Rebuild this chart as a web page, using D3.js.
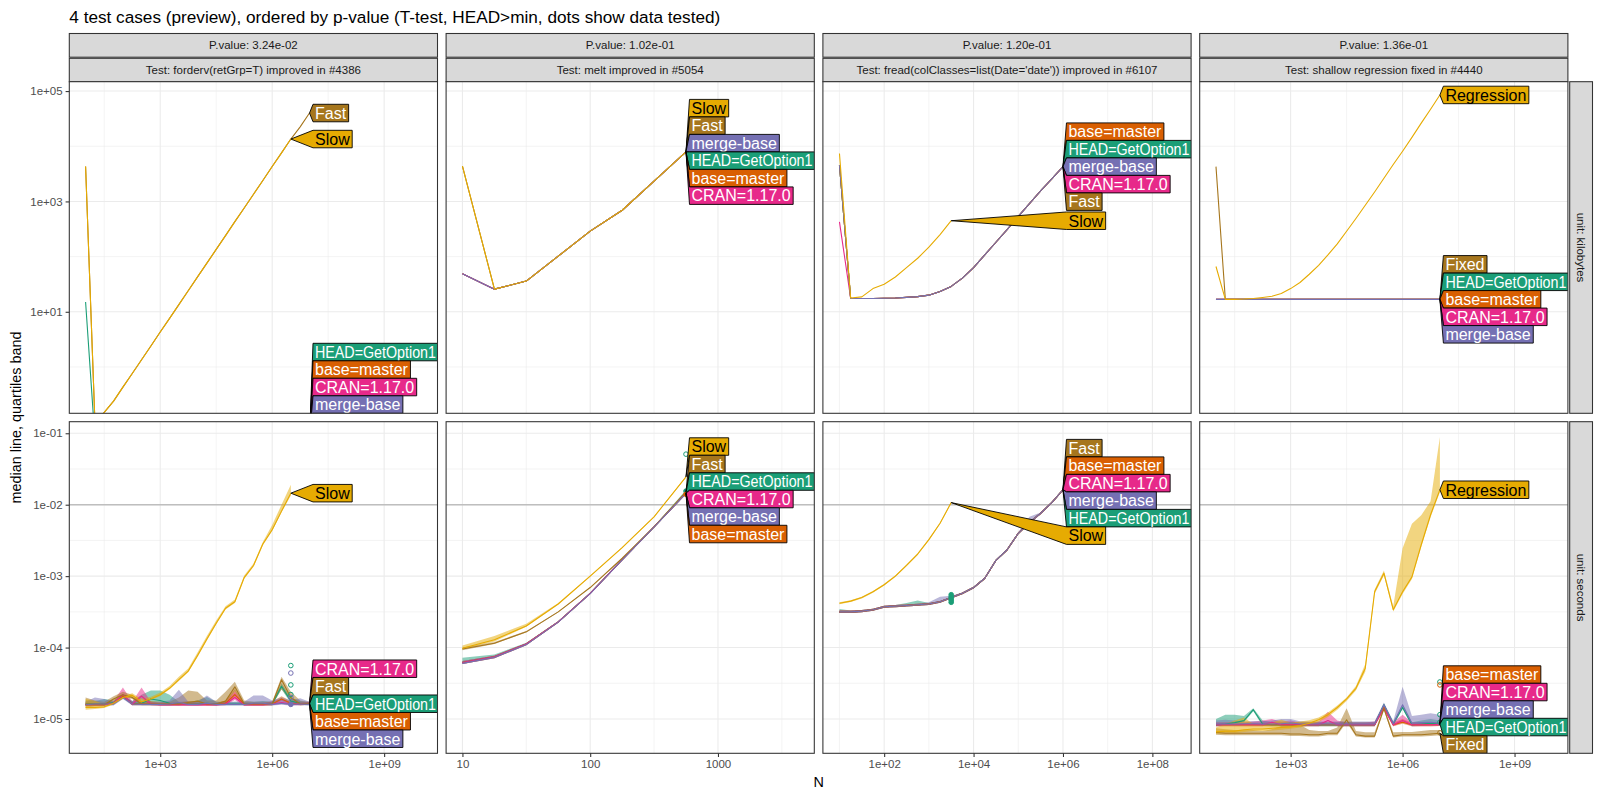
<!DOCTYPE html>
<html><head><meta charset="utf-8">
<script src="https://cdn.jsdelivr.net/npm/d3@7"></script>
<style>
body{margin:0;background:#fff}
text{font-family:"Liberation Sans",Arial,Helvetica,sans-serif}
</style>
</head><body>
<svg id="c" width="1600" height="800"></svg>
<script>
// ===================== DATA =====================
const chartTitle = "4 test cases (preview), ordered by p-value (T-test, HEAD>min, dots show data tested)";
const pValues = ["P.value: 3.24e-02","P.value: 1.02e-01","P.value: 1.20e-01","P.value: 1.36e-01"];
const testTitles = ["Test: forderv(retGrp=T) improved in #4386","Test: melt improved in #5054",
  "Test: fread(colClasses=list(Date='date')) improved in #6107","Test: shallow regression fixed in #4440"];
const rowUnits = ["unit: kilobytes","unit: seconds"];
const yTitle = "median line, quartiles band";
const xTitle = "N";

const seriesKeys = ["HEAD","base","CRAN","fast","merge","slow"];
const seriesNames = {HEAD:"HEAD=GetOption1", base:"base=master", CRAN:"CRAN=1.17.0", merge:"merge-base"};
const fastSlowNames = [["Fast","Slow"],["Fast","Slow"],["Fast","Slow"],["Fixed","Regression"]];

// N grids
const N_forderv = [10,17.8,31.6,56.2,100,178,316,562,1000,1780,3160,5620,1e4,1.78e4,3.16e4,5.62e4,1e5,1.78e5,3.16e5,5.62e5,1e6,1.78e6,3.16e6,5.62e6,1e7];
const N_melt = [10,17.8,31.6,56.2,100,178,316,562];
const N_fread = [10,17.8,31.6,56.2,100,178,316,562,1000,1780,3160,5620,1e4,1.78e4,3.16e4,5.62e4,1e5,1.78e5,3.16e5,5.62e5,1e6];
const N_shallow = [10,17.8,31.6,56.2,100,178,316,562,1000,1780,3160,5620,1e4,1.78e4,3.16e4,5.62e4,1e5,1.78e5,3.16e5,5.62e5,1e6,1.78e6,3.16e6,5.62e6,1e7];

// axis ticks
const yTicksKb = [10,1000,1e5], yTickLabelsKb = ["1e+01","1e+03","1e+05"];
const yMinorKb = [1,100,1e4];
const yTicksSec = [1e-5,1e-4,1e-3,1e-2,1e-1], yTickLabelsSec = ["1e-05","1e-04","1e-03","1e-02","1e-01"];
const yMinorSec = [3.16e-5,3.16e-4,3.16e-3,3.16e-2];
const yDomainKb = [0.1445, 1.479e5];
const yDomainSec = [3.31e-6, 0.1452];
const xTicks = [[1e3,1e6,1e9],[10,100,1000],[1e2,1e4,1e6,1e8],[1e3,1e6,1e9]];
const xTickLabels = [["1e+03","1e+06","1e+09"],["10","100","1000"],["1e+02","1e+04","1e+06","1e+08"],["1e+03","1e+06","1e+09"]];
const xMinor = [[31.6,3.16e4,3.16e7],[31.6,316,3162],[10,1000,1e5,1e7],[31.6,3.16e4,3.16e7]];
const xDomains = [[3.66,2.69e10],[7.45,5675],[4.26,7.35e8],[3.66,2.69e10]];
const hlineSeconds = 0.01;

// ---------- Panel 1: forderv ----------
const p1KbSlow = [4300,0.1,0.15,0.24,0.43,0.76,1.35,2.4,4.3,7.6,13.5,24,43,76,135,240,430,760,1350,2400,4300,7600,13500];
const p1KbFast = [4300,0.1,0.15,0.24,0.43,0.76,1.35,2.4,4.3,7.6,13.5,24,43,76,135,240,430,760,1350,2400,4300,7600,13500,22500,40000];
const p1KbHead = [15,0.05,0.05,0.05,0.05,0.05,0.05,0.05,0.05,0.05,0.05,0.05,0.05,0.05,0.05,0.05,0.05,0.05,0.05,0.05,0.05,0.05,0.05,0.05,0.05];
const p1KbOther = [0.05,0.05,0.05,0.05,0.05,0.05,0.05,0.05,0.05,0.05,0.05,0.05,0.05,0.05,0.05,0.05,0.05,0.05,0.05,0.05,0.05,0.05,0.05,0.05,0.05];

const p1SecSlowMed = [1.45e-5,1.45e-5,1.48e-5,1.66e-5,2.0e-5,2.14e-5,1.74e-5,1.91e-5,2.19e-5,2.69e-5,3.55e-5,4.68e-5,7.76e-5,1.32e-4,2.19e-4,3.55e-4,4.37e-4,9.55e-4,1.41e-3,2.82e-3,4.47e-3,8.13e-3,1.45e-2];
const p1SecSlowHi = [1.9e-5,1.8e-5,1.6e-5,1.75e-5,2.1e-5,2.3e-5,1.9e-5,2.05e-5,2.35e-5,2.9e-5,3.9e-5,5.1e-5,8.5e-5,1.45e-4,2.4e-4,3.8e-4,4.7e-4,1.02e-3,1.5e-3,3.0e-3,5.2e-3,1.0e-2,1.9e-2];
const p1SecSlowLo = [1.35e-5,1.38e-5,1.42e-5,1.6e-5,1.9e-5,2.05e-5,1.68e-5,1.85e-5,2.1e-5,2.6e-5,3.4e-5,4.5e-5,7.4e-5,1.26e-4,2.1e-4,3.4e-4,4.2e-4,9.2e-4,1.35e-3,2.7e-3,4.3e-3,7.8e-3,1.35e-2];
const p1SecFastMed = [1.58e-5,1.58e-5,1.58e-5,1.91e-5,2.19e-5,2.00e-5,1.62e-5,1.62e-5,1.62e-5,1.62e-5,1.62e-5,1.70e-5,1.78e-5,1.62e-5,1.62e-5,1.78e-5,2.82e-5,1.62e-5,1.62e-5,1.62e-5,1.62e-5,3.55e-5,2.00e-5,1.62e-5,1.66e-5];
const p1SecFastHi = [2.00e-5,1.82e-5,1.74e-5,2.09e-5,2.40e-5,2.19e-5,1.74e-5,1.78e-5,1.74e-5,1.74e-5,2.00e-5,2.51e-5,2.40e-5,1.82e-5,1.82e-5,2.40e-5,3.31e-5,1.82e-5,1.74e-5,1.74e-5,1.74e-5,3.89e-5,2.40e-5,1.82e-5,1.74e-5];
const p1SecFastLo = [1.45e-5,1.50e-5,1.52e-5,1.80e-5,2.05e-5,1.90e-5,1.56e-5,1.56e-5,1.56e-5,1.56e-5,1.56e-5,1.62e-5,1.66e-5,1.56e-5,1.56e-5,1.66e-5,2.45e-5,1.56e-5,1.56e-5,1.56e-5,1.56e-5,2.60e-5,1.80e-5,1.56e-5,1.58e-5];
const p1SecHeadMed = [1.62e-5,1.62e-5,1.62e-5,1.70e-5,2.09e-5,1.66e-5,1.66e-5,1.91e-5,1.82e-5,1.66e-5,1.62e-5,1.62e-5,1.62e-5,1.66e-5,1.62e-5,1.62e-5,1.62e-5,1.62e-5,1.62e-5,1.62e-5,1.62e-5,2.88e-5,1.78e-5,1.66e-5,1.62e-5];
const p1SecHeadHi = [1.82e-5,1.78e-5,1.91e-5,1.82e-5,2.19e-5,1.78e-5,2.19e-5,2.51e-5,2.51e-5,2.19e-5,1.74e-5,1.74e-5,1.82e-5,2.04e-5,1.74e-5,1.74e-5,1.74e-5,1.74e-5,1.74e-5,1.78e-5,1.74e-5,3.16e-5,2.00e-5,1.78e-5,1.70e-5];
const p1SecHeadLo = [1.55e-5,1.56e-5,1.56e-5,1.62e-5,1.95e-5,1.58e-5,1.58e-5,1.75e-5,1.70e-5,1.58e-5,1.56e-5,1.56e-5,1.56e-5,1.58e-5,1.56e-5,1.56e-5,1.56e-5,1.56e-5,1.56e-5,1.56e-5,1.56e-5,2.60e-5,1.66e-5,1.58e-5,1.56e-5];
const p1SecCranMed = [1.58e-5,1.58e-5,1.58e-5,1.66e-5,2.19e-5,1.62e-5,2.09e-5,1.62e-5,1.58e-5,1.58e-5,1.58e-5,1.58e-5,1.58e-5,1.58e-5,1.58e-5,1.62e-5,2.00e-5,1.58e-5,1.58e-5,1.58e-5,1.62e-5,1.70e-5,1.62e-5,1.62e-5,1.66e-5];
const p1SecCranHi = [1.70e-5,1.66e-5,1.66e-5,1.78e-5,2.75e-5,1.74e-5,2.75e-5,1.74e-5,1.66e-5,1.66e-5,1.66e-5,1.66e-5,1.66e-5,1.66e-5,1.66e-5,1.74e-5,2.40e-5,1.66e-5,1.66e-5,1.66e-5,1.78e-5,1.91e-5,1.74e-5,1.70e-5,1.74e-5];
const p1SecCranLo = [1.52e-5,1.52e-5,1.52e-5,1.60e-5,2.05e-5,1.56e-5,1.90e-5,1.56e-5,1.52e-5,1.52e-5,1.52e-5,1.52e-5,1.52e-5,1.52e-5,1.52e-5,1.56e-5,1.85e-5,1.52e-5,1.52e-5,1.52e-5,1.56e-5,1.62e-5,1.56e-5,1.56e-5,1.60e-5];
const p1SecBaseMed = [1.60e-5,1.60e-5,1.60e-5,1.66e-5,2.09e-5,1.62e-5,1.62e-5,1.62e-5,1.60e-5,1.60e-5,1.60e-5,1.62e-5,1.60e-5,1.60e-5,1.60e-5,1.66e-5,2.19e-5,1.62e-5,1.60e-5,1.60e-5,1.62e-5,1.91e-5,1.66e-5,1.62e-5,1.64e-5];
const p1SecBaseHi = [1.70e-5,1.68e-5,1.68e-5,1.76e-5,2.19e-5,1.70e-5,1.70e-5,1.74e-5,1.70e-5,1.70e-5,1.70e-5,1.78e-5,1.70e-5,1.68e-5,1.68e-5,1.82e-5,2.63e-5,1.70e-5,1.68e-5,1.68e-5,1.74e-5,2.09e-5,1.78e-5,1.70e-5,1.72e-5];
const p1SecBaseLo = [1.54e-5,1.54e-5,1.54e-5,1.60e-5,2.00e-5,1.56e-5,1.56e-5,1.56e-5,1.54e-5,1.54e-5,1.54e-5,1.56e-5,1.54e-5,1.54e-5,1.54e-5,1.60e-5,2.00e-5,1.56e-5,1.54e-5,1.54e-5,1.56e-5,1.80e-5,1.60e-5,1.56e-5,1.58e-5];
const p1SecMergeMed = [1.58e-5,1.62e-5,1.62e-5,1.62e-5,2.00e-5,1.62e-5,1.60e-5,1.60e-5,1.60e-5,1.62e-5,1.70e-5,1.60e-5,1.60e-5,1.66e-5,1.60e-5,1.60e-5,1.60e-5,1.60e-5,1.66e-5,1.66e-5,1.60e-5,1.66e-5,1.60e-5,1.62e-5,1.60e-5];
const p1SecMergeHi = [1.74e-5,2.00e-5,1.91e-5,1.74e-5,2.09e-5,1.78e-5,1.70e-5,1.70e-5,1.74e-5,1.82e-5,2.57e-5,1.74e-5,1.74e-5,2.14e-5,1.74e-5,1.70e-5,1.74e-5,1.74e-5,2.14e-5,2.14e-5,1.82e-5,2.00e-5,1.82e-5,1.95e-5,1.74e-5];
const p1SecMergeLo = [1.52e-5,1.54e-5,1.54e-5,1.54e-5,1.90e-5,1.54e-5,1.54e-5,1.54e-5,1.54e-5,1.54e-5,1.60e-5,1.54e-5,1.54e-5,1.58e-5,1.54e-5,1.54e-5,1.54e-5,1.54e-5,1.58e-5,1.58e-5,1.54e-5,1.58e-5,1.54e-5,1.56e-5,1.54e-5];

// ---------- Panel 2: melt ----------
const p2KbSlow = [4370,25.7,36,102,290,692,2340,7900];
const p2KbFast = [4370,25.7,36,102,290,692,2340,7900];
const p2KbOther = [49,25.7,36,102,290,692,2340,7900];
const p2SecSlowMed = [9.8e-5,1.29e-4,2.0e-4,4.07e-4,1.0e-3,2.51e-3,6.76e-3,2.45e-2];
const p2SecSlowHi = [1.07e-4,1.45e-4,2.15e-4,4.2e-4,1.02e-3,2.55e-3,6.9e-3,2.5e-2];
const p2SecSlowLo = [9.5e-5,1.22e-4,1.95e-4,4.0e-4,9.9e-4,2.48e-3,6.7e-3,2.4e-2];
const p2SecFastMed = [9.55e-5,1.15e-4,1.66e-4,3.16e-4,6.92e-4,1.78e-3,4.9e-3,1.51e-2];
const p2SecFastHi = [1.0e-4,1.2e-4,1.7e-4,3.2e-4,7.0e-4,1.8e-3,4.95e-3,1.55e-2];
const p2SecFastLo = [9.2e-5,1.12e-4,1.63e-4,3.12e-4,6.85e-4,1.76e-3,4.85e-3,1.48e-2];
const p2SecOtherMed = [6.17e-5,7.41e-5,1.12e-4,2.29e-4,5.75e-4,1.70e-3,4.9e-3,1.45e-2];
const p2SecMergeMed = [6.0e-5,7.3e-5,1.1e-4,2.27e-4,5.7e-4,1.69e-3,4.85e-3,1.44e-2];
const p2SecHeadHi = [7.2e-5,8.0e-5,1.17e-4,2.35e-4,5.9e-4,1.74e-3,5.0e-3,1.6e-2];
const p2SecOtherHi = [6.5e-5,7.7e-5,1.15e-4,2.33e-4,5.85e-4,1.72e-3,4.95e-3,1.5e-2];
const p2SecOtherLo = [5.9e-5,7.1e-5,1.08e-4,2.22e-4,5.6e-4,1.66e-3,4.8e-3,1.4e-2];

// ---------- Panel 3: fread ----------
const p3KbSlow = [7410,17.8,18.6,26.3,31.6,42.7,63.1,93.3,148,251,447];
const p3KbOther = [4570,17.4,17.4,17.4,17.6,17.8,18.2,18.8,20.0,23.4,28.8,40.7,63.1,107,182,309,537,912,1550,2570,4270];
const p3KbCran = [427,17.4,17.4,17.4,17.6,17.8,18.2,18.8,20.0,23.4,28.8,40.7,63.1,107,182,309,537,912,1550,2570,4270];
const p3SecSlowMed = [4.17e-4,4.47e-4,5.01e-4,6.03e-4,7.59e-4,1.0e-3,1.41e-3,2.04e-3,3.24e-3,5.5e-3,1.07e-2];
const p3SecSlowHi = [4.3e-4,4.6e-4,5.15e-4,6.2e-4,7.8e-4,1.03e-3,1.45e-3,2.1e-3,3.33e-3,5.65e-3,1.1e-2];
const p3SecSlowLo = [4.05e-4,4.35e-4,4.88e-4,5.87e-4,7.4e-4,9.7e-4,1.37e-3,1.98e-3,3.15e-3,5.35e-3,1.04e-2];
const p3SecOtherMed = [3.16e-4,3.16e-4,3.24e-4,3.39e-4,3.72e-4,3.80e-4,3.89e-4,3.98e-4,4.07e-4,4.37e-4,5.01e-4,5.75e-4,6.92e-4,9.33e-4,1.66e-3,2.34e-3,3.98e-3,5.62e-3,7.59e-3,1.07e-2,1.62e-2];
const p3SecHeadHi = [3.47e-4,3.3e-4,3.35e-4,3.5e-4,3.85e-4,3.95e-4,4.2e-4,4.57e-4,4.2e-4,4.5e-4,5.15e-4,5.9e-4,7.1e-4,9.6e-4,1.7e-3,2.4e-3,4.1e-3,5.8e-3,7.8e-3,1.1e-2,1.66e-2];
const p3SecOtherHi = [3.3e-4,3.3e-4,3.35e-4,3.5e-4,3.85e-4,3.95e-4,4.0e-4,4.1e-4,4.2e-4,4.5e-4,5.15e-4,5.9e-4,7.1e-4,9.6e-4,1.7e-3,2.4e-3,4.1e-3,5.8e-3,7.8e-3,1.1e-2,1.66e-2];
const p3SecMergeHi = [3.3e-4,3.3e-4,3.35e-4,3.5e-4,3.85e-4,3.95e-4,4.0e-4,4.1e-4,4.3e-4,5.13e-4,5.3e-4,5.9e-4,7.1e-4,9.6e-4,1.7e-3,2.4e-3,4.1e-3,6.76e-3,7.8e-3,1.1e-2,1.66e-2];
const p3SecOtherLo = [3.05e-4,3.05e-4,3.13e-4,3.28e-4,3.6e-4,3.68e-4,3.77e-4,3.86e-4,3.95e-4,4.24e-4,4.86e-4,5.58e-4,6.7e-4,9.05e-4,1.61e-3,2.27e-3,3.86e-3,5.45e-3,7.36e-3,1.04e-2,1.57e-2];

// ---------- Panel 4: shallow ----------
const p4KbRegression = [66.1,16.8,16.8,17.0,17.4,18.2,19.1,21.4,26.3,33.9,47.9,69.2,107,170,288,490,851,1480,2630,4680,8130,14500,26300,46800,85100];
const p4KbFixed = [4270,16.8,16.8,16.8,16.8,16.8,16.8,16.8,16.8,16.8,16.8,16.8,16.8,16.8,16.8,16.8,16.8,16.8,16.8,16.8,16.8,16.8,16.8,16.8,16.8];
const p4KbOther = [16.8,16.8,16.8,16.8,16.8,16.8,16.8,16.8,16.8,16.8,16.8,16.8,16.8,16.8,16.8,16.8,16.8,16.8,16.8,16.8,16.8,16.8,16.8,16.8,16.8];
const p4SecRegMed = [6.61e-6,6.76e-6,6.76e-6,7.08e-6,7.24e-6,7.24e-6,7.41e-6,7.59e-6,7.76e-6,8.13e-6,8.71e-6,9.77e-6,1.15e-5,1.45e-5,1.91e-5,2.69e-5,5.13e-5,6.03e-4,1.10e-3,3.39e-4,6.03e-4,9.77e-4,2.75e-3,7.24e-3,1.62e-2];
const p4SecRegHi = [7.6e-6,8.5e-6,9.5e-6,1.05e-5,8.5e-6,8.5e-6,9.0e-6,9.8e-6,8.9e-6,9.2e-6,9.6e-6,1.05e-5,1.23e-5,1.55e-5,2.0e-5,2.9e-5,5.9e-5,6.5e-4,1.2e-3,3.8e-4,2.45e-3,5.4e-3,7.1e-3,1.12e-2,8.9e-2];
const p4SecRegLo = [6.2e-6,6.3e-6,6.3e-6,6.6e-6,6.8e-6,6.8e-6,6.9e-6,7.1e-6,7.3e-6,7.6e-6,8.1e-6,9.1e-6,1.07e-5,1.35e-5,1.78e-5,2.5e-5,4.6e-5,5.6e-4,1.02e-3,3.2e-4,5.6e-4,9.1e-4,2.55e-3,6.7e-3,1.5e-2];
const p4SecFixedMed = [6.46e-6,6.31e-6,6.31e-6,6.31e-6,6.31e-6,6.31e-6,6.31e-6,6.31e-6,6.17e-6,6.17e-6,6.03e-6,6.03e-6,6.31e-6,6.31e-6,9.77e-6,6.03e-6,5.75e-6,5.75e-6,1.41e-5,5.75e-6,6.03e-6,6.03e-6,6.03e-6,6.17e-6,6.31e-6];
const p4SecFixedHi = [7.4e-6,7.2e-6,7.0e-6,7.0e-6,7.0e-6,6.8e-6,7.2e-6,8.0e-6,8.7e-6,8.3e-6,7.0e-6,6.8e-6,6.8e-6,7.6e-6,1.41e-5,6.8e-6,6.5e-6,6.5e-6,1.48e-5,6.5e-6,6.6e-6,6.6e-6,6.8e-6,7.0e-6,7.0e-6];
const p4SecFixedLo = [6.0e-6,5.9e-6,5.9e-6,5.9e-6,5.9e-6,5.9e-6,5.9e-6,5.9e-6,5.8e-6,5.8e-6,5.7e-6,5.7e-6,5.9e-6,5.9e-6,9.0e-6,5.7e-6,5.5e-6,5.5e-6,1.32e-5,5.5e-6,5.7e-6,5.7e-6,5.7e-6,5.8e-6,5.9e-6];
const p4SecHeadMed = [8.3e-6,8.5e-6,8.9e-6,9.5e-6,1.35e-5,8.5e-6,8.3e-6,8.3e-6,8.3e-6,8.3e-6,8.3e-6,8.3e-6,8.3e-6,8.3e-6,8.3e-6,8.3e-6,8.3e-6,8.3e-6,1.58e-5,8.5e-6,1.45e-5,8.3e-6,8.5e-6,8.7e-6,8.5e-6];
const p4SecHeadHi = [1.0e-5,1.15e-5,1.15e-5,1.1e-5,1.41e-5,9.5e-6,9.0e-6,9.0e-6,9.0e-6,9.0e-6,9.0e-6,9.0e-6,9.0e-6,9.0e-6,9.0e-6,9.0e-6,9.0e-6,9.0e-6,1.66e-5,9.2e-6,1.55e-5,9.0e-6,9.5e-6,1.0e-5,9.5e-6];
const p4SecHeadLo = [7.9e-6,8.0e-6,8.4e-6,9.0e-6,1.28e-5,8.0e-6,7.9e-6,7.9e-6,7.9e-6,7.9e-6,7.9e-6,7.9e-6,7.9e-6,7.9e-6,7.9e-6,7.9e-6,7.9e-6,7.9e-6,1.5e-5,8.0e-6,1.38e-5,7.9e-6,8.0e-6,8.2e-6,8.0e-6];
const p4SecCranMed = [8.3e-6,8.3e-6,8.3e-6,8.3e-6,8.3e-6,8.3e-6,9.0e-6,8.3e-6,8.3e-6,8.3e-6,8.3e-6,8.3e-6,9.5e-6,8.3e-6,8.3e-6,8.3e-6,8.3e-6,8.3e-6,1.41e-5,8.3e-6,9.5e-6,8.3e-6,8.3e-6,8.3e-6,8.4e-6];
const p4SecCranHi = [8.9e-6,8.9e-6,8.9e-6,8.9e-6,9.2e-6,9.5e-6,1.0e-5,9.2e-6,9.5e-6,8.9e-6,8.9e-6,9.2e-6,1.26e-5,9.5e-6,8.9e-6,8.9e-6,8.9e-6,9.2e-6,1.58e-5,9.0e-6,1.15e-5,8.9e-6,8.9e-6,8.9e-6,9.0e-6];
const p4SecCranLo = [7.9e-6,7.9e-6,7.9e-6,7.9e-6,7.9e-6,7.9e-6,8.6e-6,7.9e-6,7.9e-6,7.9e-6,7.9e-6,7.9e-6,9.0e-6,7.9e-6,7.9e-6,7.9e-6,7.9e-6,7.9e-6,1.33e-5,7.9e-6,9.0e-6,7.9e-6,7.9e-6,7.9e-6,8.0e-6];
const p4SecBaseMed = [8.3e-6,8.3e-6,8.3e-6,8.3e-6,8.3e-6,8.3e-6,8.3e-6,8.3e-6,8.3e-6,8.3e-6,8.3e-6,8.3e-6,8.3e-6,8.3e-6,8.3e-6,8.3e-6,8.3e-6,8.3e-6,1.45e-5,8.3e-6,9.0e-6,8.3e-6,8.3e-6,8.3e-6,8.4e-6];
const p4SecBaseHi = [8.9e-6,8.9e-6,8.9e-6,8.9e-6,8.9e-6,8.9e-6,8.9e-6,8.9e-6,8.9e-6,8.9e-6,8.9e-6,8.9e-6,8.9e-6,8.9e-6,8.9e-6,8.9e-6,8.9e-6,8.9e-6,1.55e-5,8.9e-6,1.0e-5,8.9e-6,8.9e-6,8.9e-6,9.0e-6];
const p4SecBaseLo = [7.9e-6,7.9e-6,7.9e-6,7.9e-6,7.9e-6,7.9e-6,7.9e-6,7.9e-6,7.9e-6,7.9e-6,7.9e-6,7.9e-6,7.9e-6,7.9e-6,7.9e-6,7.9e-6,7.9e-6,7.9e-6,1.38e-5,7.9e-6,8.6e-6,7.9e-6,7.9e-6,7.9e-6,8.0e-6];
const p4SecMergeMed = [8.5e-6,8.5e-6,8.5e-6,8.6e-6,8.6e-6,8.5e-6,8.5e-6,8.6e-6,8.8e-6,8.5e-6,8.5e-6,8.5e-6,8.5e-6,8.5e-6,8.5e-6,8.5e-6,8.5e-6,8.5e-6,1.58e-5,8.6e-6,1.58e-5,8.7e-6,8.9e-6,9.0e-6,8.8e-6];
const p4SecMergeHi = [9.5e-6,9.8e-6,9.5e-6,9.3e-6,9.3e-6,9.3e-6,9.5e-6,1.0e-5,1.0e-5,9.3e-6,9.2e-6,9.2e-6,9.2e-6,9.2e-6,9.2e-6,9.2e-6,9.2e-6,9.2e-6,1.7e-5,9.3e-6,2.82e-5,1.1e-5,1.15e-5,1.2e-5,1.15e-5];
const p4SecMergeLo = [8.0e-6,8.0e-6,8.0e-6,8.1e-6,8.1e-6,8.0e-6,8.0e-6,8.1e-6,8.3e-6,8.0e-6,8.0e-6,8.0e-6,8.0e-6,8.0e-6,8.0e-6,8.0e-6,8.0e-6,8.0e-6,1.48e-5,8.1e-6,1.45e-5,8.2e-6,8.4e-6,8.5e-6,8.3e-6];

// tested data dots (seconds): [series, N, value, filled]
const p1Dots = [["HEAD",3.16e6,5.6e-5,0],["merge",3.16e6,4.4e-5,0],["HEAD",3.16e6,3.0e-5,0],["HEAD",3.16e6,2.2e-5,0],["merge",3.16e6,2.0e-5,0],["merge",3.16e6,1.6e-5,1]];
const p2Dots = [["HEAD",562,5.1e-2,0],["HEAD",562,1.55e-2,1],["base",562,1.4e-2,1]];
const p3Dots = [["HEAD",3160,4.3e-4,1],["HEAD",3160,4.6e-4,1],["HEAD",3160,4.9e-4,1],["HEAD",3160,5.2e-4,1],["HEAD",3160,5.5e-4,1]];
const p4Dots = [["HEAD",1e7,3.3e-5,0],["base",1e7,3.0e-5,0],["HEAD",1e7,1.15e-5,0],["HEAD",1e7,9.0e-6,0],["fast",1e7,6.4e-6,0]];

// label stacking order (top to bottom)
const p1OrderKb = ["fast","slow","HEAD","base","CRAN","merge"];
const p1OrderSec = ["slow","CRAN","fast","HEAD","base","merge"];
const p2OrderKb = ["slow","fast","merge","HEAD","base","CRAN"];
const p2OrderSec = ["slow","fast","HEAD","CRAN","merge","base"];
const p3OrderKb = ["base","HEAD","merge","CRAN","fast","slow"];
const p3OrderSec = ["fast","base","CRAN","merge","HEAD","slow"];
const p4OrderKb = ["slow","fast","HEAD","base","CRAN","merge"];
const p4OrderSec = ["slow","base","CRAN","merge","HEAD","fast"];

// ===================== ASSEMBLY =====================
const colors = {HEAD:"#1B9E77", base:"#D95F02", CRAN:"#E7298A", merge:"#7570B3", fast:"#A6761D", slow:"#E6AB02"};
const textColors = {HEAD:"#fff", base:"#fff", CRAN:"#fff", merge:"#fff", fast:"#fff", slow:"#000"};
const S = (med,lo,hi)=>({med,lo,hi});
const panels = [
 {N:N_forderv,
  kb:{HEAD:p1KbHead, base:p1KbOther, CRAN:p1KbOther, merge:p1KbOther, fast:p1KbFast, slow:p1KbSlow},
  sec:{HEAD:S(p1SecHeadMed,p1SecHeadLo,p1SecHeadHi), base:S(p1SecBaseMed,p1SecBaseLo,p1SecBaseHi), CRAN:S(p1SecCranMed,p1SecCranLo,p1SecCranHi),
       merge:S(p1SecMergeMed,p1SecMergeLo,p1SecMergeHi), fast:S(p1SecFastMed,p1SecFastLo,p1SecFastHi), slow:S(p1SecSlowMed,p1SecSlowLo,p1SecSlowHi)},
  dots:p1Dots, order:[p1OrderKb,p1OrderSec]},
 {N:N_melt,
  kb:{HEAD:p2KbOther, base:p2KbOther, CRAN:p2KbOther, merge:p2KbOther, fast:p2KbFast, slow:p2KbSlow},
  sec:{HEAD:S(p2SecOtherMed,p2SecOtherLo,p2SecHeadHi), base:S(p2SecOtherMed,p2SecOtherLo,p2SecOtherHi), CRAN:S(p2SecOtherMed,p2SecOtherLo,p2SecOtherHi),
       merge:S(p2SecMergeMed,p2SecOtherLo,p2SecOtherHi), fast:S(p2SecFastMed,p2SecFastLo,p2SecFastHi), slow:S(p2SecSlowMed,p2SecSlowLo,p2SecSlowHi)},
  dots:p2Dots, order:[p2OrderKb,p2OrderSec]},
 {N:N_fread,
  kb:{HEAD:p3KbOther, base:p3KbOther, CRAN:p3KbCran, merge:p3KbOther, fast:p3KbOther, slow:p3KbSlow},
  sec:{HEAD:S(p3SecOtherMed,p3SecOtherLo,p3SecHeadHi), base:S(p3SecOtherMed,p3SecOtherLo,p3SecOtherHi), CRAN:S(p3SecOtherMed,p3SecOtherLo,p3SecOtherHi),
       merge:S(p3SecOtherMed,p3SecOtherLo,p3SecMergeHi), fast:S(p3SecOtherMed,p3SecOtherLo,p3SecOtherHi), slow:S(p3SecSlowMed,p3SecSlowLo,p3SecSlowHi)},
  dots:p3Dots, order:[p3OrderKb,p3OrderSec]},
 {N:N_shallow,
  kb:{HEAD:p4KbOther, base:p4KbOther, CRAN:p4KbOther, merge:p4KbOther, fast:p4KbFixed, slow:p4KbRegression},
  sec:{HEAD:S(p4SecHeadMed,p4SecHeadLo,p4SecHeadHi), base:S(p4SecBaseMed,p4SecBaseLo,p4SecBaseHi), CRAN:S(p4SecCranMed,p4SecCranLo,p4SecCranHi),
       merge:S(p4SecMergeMed,p4SecMergeLo,p4SecMergeHi), fast:S(p4SecFixedMed,p4SecFixedLo,p4SecFixedHi), slow:S(p4SecRegMed,p4SecRegLo,p4SecRegHi)},
  dots:p4Dots, order:[p4OrderKb,p4OrderSec]}
];

// ===================== LAYOUT =====================
const FONT_SMALL = 11.5, FONT_AXIS = 14.4, FONT_TITLE = 17.2, FONT_LABEL = 16, LABEL_MAX_W = 121;
const panelX0 = 69.3, panelW = 368.2, panelGap = 8.6;
const rowTop = [81.7, 421.7], rowH = 331.6;
const grid = "#EBEBEB", borderCol = "#333333";
const svg = d3.select("#c");
const defs = svg.append("defs");

svg.append("text").attr("x", panelX0).attr("y", 22.5).attr("font-size", FONT_TITLE).attr("fill","#000").text(chartTitle);

const yScales = [
  d3.scaleLog().domain(yDomainKb).range([rowTop[0]+rowH, rowTop[0]]),
  d3.scaleLog().domain(yDomainSec).range([rowTop[1]+rowH, rowTop[1]])
];

function pav(targets, h){
  const blocks=[];
  targets.forEach((t,i)=>{
    blocks.push({sum:t-i*h,n:1});
    while(blocks.length>1){
      const a=blocks[blocks.length-2], b=blocks[blocks.length-1];
      if(a.sum/a.n > b.sum/b.n){a.sum+=b.sum;a.n+=b.n;blocks.pop();} else break;
    }
  });
  const out=[]; let i=0;
  blocks.forEach(b=>{const m=b.sum/b.n; for(let k=0;k<b.n;k++){out.push(m+i*h);i++;}});
  return out;
}

panels.forEach((p, c) => {
  const x0 = panelX0 + c*(panelW+panelGap);
  const xs = d3.scaleLog().domain(xDomains[c]).range([x0, x0+panelW]);
  const names = {...seriesNames, fast:fastSlowNames[c][0], slow:fastSlowNames[c][1]};

  // strips
  const st = [[33.5,57.2,pValues[c]],[58.3,81.7,testTitles[c]]];
  st.forEach(([a,b,t])=>{
    svg.append("rect").attr("x",x0).attr("y",a).attr("width",panelW).attr("height",b-a)
      .attr("fill","#D9D9D9").attr("stroke",borderCol).attr("stroke-width",1.07);
    svg.append("text").attr("x",x0+panelW/2).attr("y",(a+b)/2+4.1).attr("text-anchor","middle")
      .attr("font-size",FONT_SMALL).attr("fill","#1A1A1A").text(t);
  });

  [0,1].forEach(r=>{
    const ys = yScales[r];
    const top = rowTop[r], bot = rowTop[r]+rowH;
    const cid = `clip${c}_${r}`;
    defs.append("clipPath").attr("id",cid).append("rect").attr("x",x0).attr("y",top).attr("width",panelW).attr("height",rowH);
    const g = svg.append("g");
    g.append("rect").attr("x",x0).attr("y",top).attr("width",panelW).attr("height",rowH).attr("fill","#fff");
    const gg = g.append("g").attr("clip-path",`url(#${cid})`);
    // grid
    const yMin = r===0?yMinorKb:yMinorSec, yMaj = r===0?yTicksKb:yTicksSec;
    gg.selectAll(null).data(xMinor[c]).join("line").attr("x1",d=>xs(d)).attr("x2",d=>xs(d)).attr("y1",top).attr("y2",bot).attr("stroke",grid).attr("stroke-width",0.53);
    gg.selectAll(null).data(yMin).join("line").attr("y1",d=>ys(d)).attr("y2",d=>ys(d)).attr("x1",x0).attr("x2",x0+panelW).attr("stroke",grid).attr("stroke-width",0.53);
    gg.selectAll(null).data(xTicks[c]).join("line").attr("x1",d=>xs(d)).attr("x2",d=>xs(d)).attr("y1",top).attr("y2",bot).attr("stroke",grid).attr("stroke-width",1.07);
    gg.selectAll(null).data(yMaj).join("line").attr("y1",d=>ys(d)).attr("y2",d=>ys(d)).attr("x1",x0).attr("x2",x0+panelW).attr("stroke",grid).attr("stroke-width",1.07);
    if(r===1){
      gg.append("line").attr("x1",x0).attr("x2",x0+panelW).attr("y1",ys(hlineSeconds)).attr("y2",ys(hlineSeconds)).attr("stroke","#BEBEBE").attr("stroke-width",1.4);
    }
    // bands
    if(r===1){
      seriesKeys.forEach(k=>{
        const s = p.sec[k];
        const pts = s.med.map((m,i)=>({N:p.N[i], lo:s.lo[i], hi:s.hi[i]}));
        gg.append("path").attr("d", d3.area().x(d=>xs(d.N)).y0(d=>ys(d.lo)).y1(d=>ys(d.hi))(pts))
          .attr("fill",colors[k]).attr("fill-opacity",0.5).attr("stroke","none");
      });
    }
    // lines
    seriesKeys.forEach(k=>{
      const vals = r===0 ? p.kb[k] : p.sec[k].med;
      const pts = vals.map((v,i)=>({N:p.N[i], v}));
      gg.append("path").attr("d", d3.line().x(d=>xs(d.N)).y(d=>ys(d.v))(pts))
        .attr("fill","none").attr("stroke",colors[k]).attr("stroke-width",1.1).attr("stroke-linejoin","round");
    });
    // dots
    if(r===1){
      p.dots.forEach(([k,n,v,f])=>{
        gg.append("circle").attr("cx",xs(n)).attr("cy",ys(v)).attr("r",2.3)
          .attr("fill",f?colors[k]:"none").attr("stroke",colors[k]).attr("stroke-width",1);
      });
    }
    // direct labels
    const lastX = d3.max(seriesKeys, k=>{const v=r===0?p.kb[k]:p.sec[k].med; return xs(p.N[v.length-1]);});
    const boxL = lastX + 3.5, h = 17.5;
    const order = p.order[r];
    const tips = order.map(k=>{const v=r===0?p.kb[k]:p.sec[k].med; const i=v.length-1; return {k, x:xs(p.N[i]), y:ys(v[i])};});
    let pos = pav(tips.map(t=>t.y), h);
    const n = pos.length;
    if(pos[n-1]+h/2 > bot){ pos[n-1] = bot-h/2; for(let i=n-2;i>=0;i--) pos[i]=Math.min(pos[i], pos[i+1]-h); }
    if(pos[0]-h/2 < top){ pos[0] = top+h/2; for(let i=1;i<n;i++) pos[i]=Math.max(pos[i], pos[i-1]+h); }
    tips.forEach((t,i)=>{
      const lg = gg.append("g");
      const poly = lg.append("path");
      const tx = lg.append("text").attr("x",boxL+2).attr("y",pos[i]+5.8).attr("font-size",FONT_LABEL)
        .attr("fill",textColors[t.k]).text(names[t.k]);
      let tw = tx.node().getComputedTextLength();
      if(tw > LABEL_MAX_W){ tx.attr("textLength",LABEL_MAX_W).attr("lengthAdjust","spacingAndGlyphs"); tw = LABEL_MAX_W; }
      const w = tw + 4.5;
      const bt = pos[i]-h/2, bb = pos[i]+h/2;
      poly.attr("d",`M${t.x},${t.y}L${boxL},${bt}L${boxL+w},${bt}L${boxL+w},${bb}L${boxL},${bb}Z`)
        .attr("fill",colors[t.k]).attr("stroke","#000").attr("stroke-width",0.9).attr("stroke-linejoin","miter");
    });
    // border
    g.append("rect").attr("x",x0).attr("y",top).attr("width",panelW).attr("height",rowH)
      .attr("fill","none").attr("stroke",borderCol).attr("stroke-width",1.07);

    // axes
    if(c===0){
      const ax = svg.append("g").attr("transform",`translate(${x0},0)`)
        .call(d3.axisLeft(ys).tickValues(yMaj).tickFormat((d,i)=>(r===0?yTickLabelsKb:yTickLabelsSec)[i]).tickSize(3.7).tickPadding(3));
      ax.select(".domain").remove();
      ax.selectAll("line").attr("stroke",borderCol).attr("stroke-width",1.07);
      ax.selectAll("text").attr("font-size",FONT_SMALL).attr("fill","#4D4D4D").attr("font-family","Liberation Sans, Arial, sans-serif");
    }
    if(r===1){
      const ax = svg.append("g").attr("transform",`translate(0,${bot})`)
        .call(d3.axisBottom(xs).tickValues(xTicks[c]).tickFormat((d,i)=>xTickLabels[c][i]).tickSize(3.7).tickPadding(3));
      ax.select(".domain").remove();
      ax.selectAll("line").attr("stroke",borderCol).attr("stroke-width",1.07);
      ax.selectAll("text").attr("font-size",FONT_SMALL).attr("fill","#4D4D4D").attr("font-family","Liberation Sans, Arial, sans-serif");
    }
    if(c===3){
      const sx = x0+panelW+1.8, sw = 22.8;
      svg.append("rect").attr("x",sx).attr("y",top).attr("width",sw).attr("height",rowH)
        .attr("fill","#D9D9D9").attr("stroke",borderCol).attr("stroke-width",1.07);
      svg.append("text").attr("transform",`translate(${sx+sw/2-4.1},${top+rowH/2}) rotate(90)`)
        .attr("text-anchor","middle").attr("font-size",FONT_SMALL).attr("fill","#1A1A1A").text(rowUnits[r]);
    }
  });
});

// axis titles
svg.append("text").attr("x", panelX0 + (4*panelW+3*panelGap)/2).attr("y",787).attr("text-anchor","middle")
  .attr("font-size",FONT_AXIS).attr("fill","#000").text(xTitle);
svg.append("text").attr("transform",`translate(21,${(rowTop[0]+rowTop[1]+rowH)/2}) rotate(-90)`).attr("text-anchor","middle")
  .attr("font-size",FONT_AXIS).attr("fill","#000").text(yTitle);
</script>
</body></html>
